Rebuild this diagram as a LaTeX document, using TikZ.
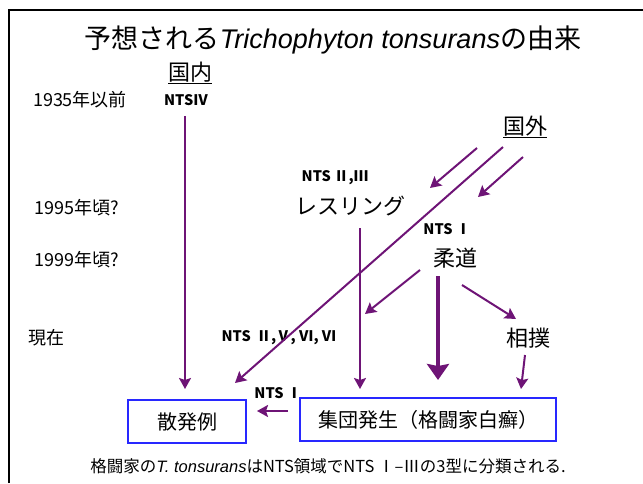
\documentclass[tikz,border=0pt]{standalone}
\usepackage{fontspec}
\setmainfont{Noto Sans CJK JP}
\newfontfamily\lat{Liberation Sans}
\usetikzlibrary{arrows.meta}
\definecolor{arrpurple}{RGB}{110,20,118}
\definecolor{boxblue}{RGB}{40,40,255}
\tikzset{
  arr/.style={draw=arrpurple, line width=2pt, -{Stealth[length=11pt,width=12pt,inset=2pt]}},
  thickarr/.style={draw=arrpurple, line width=3.5pt, -{Stealth[length=16pt,width=22pt,inset=2pt]}},
  lbl/.style={inner sep=0pt, font=\fontsize{18}{20}\selectfont},
  nts/.style={inner sep=0pt, font=\fontsize{14.5}{16}\selectfont\bfseries},
  word/.style={inner sep=0pt, font=\fontsize{22}{24}\selectfont},
  bluebox/.style={draw=boxblue, line width=2pt, inner sep=0pt, font=\fontsize{20}{22}\selectfont}
}
\begin{document}
\begin{tikzpicture}[x=1pt,y=-1pt]
\useasboundingbox (0,0) rectangle (643,483);
% frame
\draw[line width=1.5pt] (9,483) -- (9,10) -- (643,10);
% title
\node[inner sep=0pt, font=\fontsize{27}{29}\selectfont] (title) at (333,40)
  {予想される{\lat\itshape Trichophyton tonsurans}の由来};
% time labels
\node[lbl] (t1935) at (80,100) {1935年以前};
\node[lbl] (t1995) at (77,208) {1995年頃?};
\node[lbl] (t1999) at (77,260) {1999年頃?};
\node[lbl] (tnow) at (46,338) {現在};
% origins
\node[word] (domestic) at (190,73) {\underline{国内}};
\node[nts] (ntsiv) at (186,100) {NTSⅣ};
\node[word] (foreign) at (525,127) {\underline{国外}};
% sports
\node[nts] (ntswr) at (335,178) {NTS Ⅱ,Ⅲ};
\node[word] (wrestle) at (350,206) {レスリング};
\node[nts] (ntsju) at (447,229) {NTS Ⅰ};
\node[word] (judo) at (455,258) {柔道};
\node[nts] (ntsnow) at (279,338) {NTS \,Ⅱ,Ⅴ, Ⅵ, Ⅵ};
\node[word] (sumo) at (528,338) {相撲};
\node[nts] (ntsone) at (278,393) {NTS Ⅰ};
% boxes
\node[bluebox, minimum width=118pt, minimum height=43pt] (sporadic) at (187,421.5) {散発例};
\node[bluebox, minimum width=256pt, minimum height=43pt] (outbreak) at (428,419.5) {集団発生（格闘家白癬）};
% caption
\node[inner sep=0pt, font=\fontsize{16.5}{18}\selectfont] (caption) at (328,466)
  {格闘家の{\lat\itshape T. tonsurans}はNTS領域でNTS Ⅰ–Ⅲの3型に分類される.};
% coordinates
\coordinate (fa1) at (477,148); \coordinate (fa2) at (430,188);
\coordinate (fb1) at (503,147); \coordinate (fb2) at (235,383);
\coordinate (fc1) at (523,157); \coordinate (fc2) at (478,197);
\coordinate (jl1) at (420,270); \coordinate (jl2) at (365,314);
\coordinate (jr1) at (462,285); \coordinate (jr2) at (516,319);
\coordinate (sm1) at (525,355); \coordinate (sm2) at (521,389);
\coordinate (ob1) at (288,411); \coordinate (sp1) at (257,411);
% arrows
\draw[arr] (ntsiv.south) ++(-1,10) -- (185,389);
\draw[arr] (fa1) -- (fa2);
\draw[arr] (fb1) -- (fb2);
\draw[arr] (fc1) -- (fc2);
\draw[arr] (360,228) -- (360,389);
\draw[thickarr] (438,276) -- (438,380);
\draw[arr] (jl1) -- (jl2);
\draw[arr] (jr1) -- (jr2);
\draw[arr] (sm1) -- (sm2);
\draw[arr] (ob1) -- (sp1);
\end{tikzpicture}
\end{document}
